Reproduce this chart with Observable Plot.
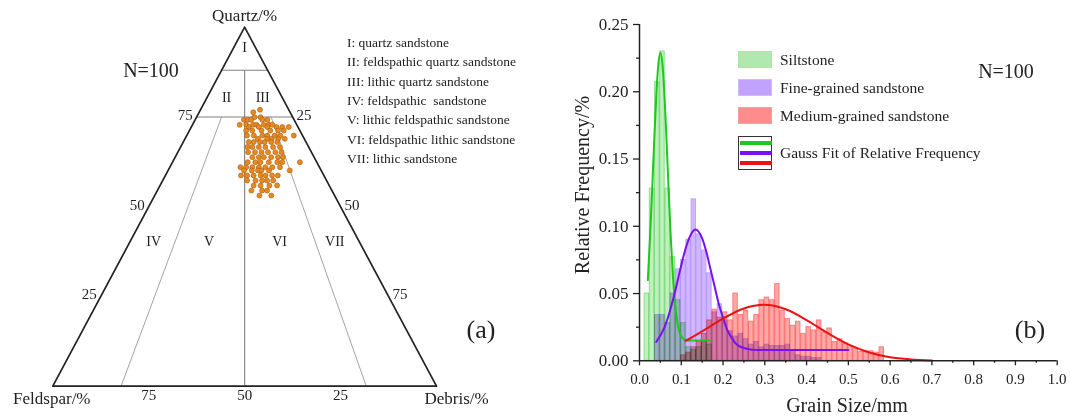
<!DOCTYPE html>
<html>
<head>
<meta charset="utf-8">
<script src="https://cdn.jsdelivr.net/npm/d3@7"></script>
<script src="https://cdn.jsdelivr.net/npm/@observablehq/plot@0.6"></script>
<style>
  body { margin: 0; background: #fff; }
  #fig { position: relative; width: 1070px; height: 419px; overflow: hidden; background: #fff;
         font-family: "Liberation Serif", "Times New Roman", serif; color: #222; }
  #fig svg { position: absolute; top: 0; }
  .lab { position: absolute; white-space: pre; line-height: 1; }
</style>
</head>
<body>
<div id="fig"></div>
<script>
// ---------- (a) ternary diagram: quartz / feldspar / debris ----------
const vertexLabels = ["Quartz/%", "Feldspar/%", "Debris/%"];
const edgeTickValues = [25, 50, 75];
const classCodes = ["I", "II", "III", "IV", "V", "VI", "VII"];
const classNames = ["quartz sandstone", "feldspathic quartz sandstone", "lithic quartz sandstone",
  "feldspathic  sandstone", "lithic feldspathic sandstone", "feldspathic lithic sandstone", "lithic sandstone"];

// class boundaries, each segment given by (quartz %, debris %) at both ends
const boundaryQuartzA = [88, 75, 88, 75, 75];
const boundaryDebrisA = [0, 0, 6, 6.5, 19.4];
const boundaryQuartzB = [88, 75, 0, 0, 0];
const boundaryDebrisB = [12, 25, 50, 17.8, 81.7];

// sample compositions (N = 100)
const sampleQuartz = [
  77.0, 76.3, 74.9, 74.9, 74.2, 74.2, 74.2, 74.2, 74.2,
  72.8, 72.8, 72.8, 72.8, 72.8, 72.8, 72.8,
  72.2, 72.2, 72.2, 72.2, 72.2, 72.2,
  71.2, 71.2, 71.2, 71.2, 71.2, 71.2,
  69.8, 69.8, 69.8, 69.8, 69.8, 69.8, 69.8,
  68.9, 68.9, 68.9, 68.9, 68.9,
  68.0, 68.0, 68.0, 68.0, 68.0, 68.0,
  66.6, 66.6, 66.6, 66.6, 66.6, 66.6,
  65.2, 65.2, 65.2, 65.2, 65.2, 65.2,
  63.8, 63.8, 63.8, 63.8, 63.8, 63.8,
  62.4, 62.4, 62.4, 62.4, 62.4, 62.4, 62.4,
  61.0, 61.0, 61.0, 61.0, 61.0, 61.0, 61.0,
  60.1, 60.1, 60.1, 60.1, 60.1, 60.1,
  58.7, 58.7, 58.7, 58.7, 58.7, 58.7, 58.7,
  57.3, 57.3, 57.3, 57.3, 57.3,
  55.9, 55.9, 55.9, 55.9,
  54.5, 54.5, 54.5,
  53.1, 53.1
];
const sampleDebris = [
  15.5, 14.1, 15.1, 16.7, 12.7, 13.8, 14.6, 17.5, 18.8,
  12.3, 14.0, 15.8, 16.7, 18.6, 19.9, 20.8,
  15.0, 17.6, 19.8, 22.2, 23.7, 25.4,
  14.8, 16.4, 18.8, 21.1, 23.1, 24.6,
  15.7, 17.5, 19.7, 21.0, 22.9, 24.4, 27.9,
  19.0, 21.4, 22.6, 24.3, 26.0,
  17.1, 18.4, 20.0, 21.2, 22.9, 24.5,
  17.4, 18.7, 20.4, 22.1, 24.1, 25.9,
  18.3, 20.1, 21.8, 23.5, 25.4, 27.0,
  20.1, 21.8, 23.1, 25.0, 26.8, 28.1,
  19.6, 21.6, 22.9, 25.1, 27.3, 28.6, 33.2,
  18.4, 19.9, 21.5, 23.2, 24.9, 26.7, 28.7,
  19.8, 21.8, 23.4, 24.3, 26.3, 31.7,
  19.7, 21.3, 23.0, 24.8, 26.1, 27.8, 29.3,
  22.0, 24.2, 25.9, 27.2, 28.8,
  24.4, 26.2, 28.5, 30.5,
  24.5, 27.3, 28.6,
  27.3, 30.4
];

// ---------- (b) grain-size histograms ----------
const binWidth = 0.0125;
const binCenters = [0.0175, 0.03, 0.0425, 0.055, 0.0675, 0.08, 0.0925, 0.105, 0.1175, 0.13,
  0.1425, 0.155, 0.1675, 0.18, 0.1925, 0.205, 0.2175, 0.23, 0.2425, 0.255,
  0.2675, 0.28, 0.2925, 0.305, 0.3175, 0.33, 0.3425, 0.355, 0.3675, 0.38,
  0.3925, 0.405, 0.4175, 0.43, 0.4425, 0.455, 0.4675, 0.48, 0.4925, 0.505,
  0.5175, 0.53, 0.5425, 0.555, 0.5675, 0.58];
const siltFreq = [0.050, 0.128, 0.207, 0.230, 0.128, 0.077, 0.045, 0.028, 0.010, 0.008,
  0.010, 0.014, 0.012, 0, 0, 0, 0, 0, 0, 0,
  0, 0, 0, 0, 0, 0, 0, 0, 0, 0,
  0, 0, 0, 0, 0, 0, 0, 0, 0, 0,
  0, 0, 0, 0, 0, 0];
const fineFreq = [0, 0, 0.034, 0.034, 0.028, 0.050, 0.068, 0.075, 0.090, 0.120,
  0.094, 0.082, 0.065, 0.036, 0.042, 0.030, 0.022, 0.018, 0.020, 0.016,
  0.012, 0.014, 0.010, 0.012, 0.011, 0.011, 0.011, 0.012, 0.008, 0.004,
  0.003, 0.003, 0.002, 0.002, 0, 0, 0, 0, 0, 0,
  0, 0, 0, 0, 0, 0];
const mediumFreq = [0, 0, 0, 0, 0, 0, 0, 0.004, 0.006, 0.010,
  0.014, 0.020, 0.030, 0.038, 0.032, 0.036, 0.030, 0.050, 0.034, 0.037,
  0.029, 0.034, 0.045, 0.047, 0.045, 0.057, 0.037, 0.031, 0.026, 0.029,
  0.020, 0.025, 0.0225, 0.030, 0.021, 0.024, 0.014, 0.016, 0.013, 0.011,
  0.009, 0.0065, 0.007, 0.007, 0.006, 0.010];

// Gauss fit curves of relative frequency
const siltFitX = [0.02, 0.025, 0.03, 0.035, 0.04, 0.045, 0.05, 0.055, 0.06, 0.065, 0.07, 0.075, 0.08, 0.085, 0.09, 0.10, 0.11, 0.12, 0.17];
const siltFitY = [0.060, 0.091, 0.125, 0.162, 0.196, 0.220, 0.229, 0.220, 0.196, 0.162, 0.125, 0.091, 0.063, 0.043, 0.030, 0.018, 0.0155, 0.015, 0.015];
const fineFitX = [0.04, 0.06, 0.08, 0.10, 0.11, 0.12, 0.134, 0.15, 0.16, 0.17, 0.18, 0.19, 0.20, 0.21, 0.22, 0.23, 0.25, 0.27, 0.30, 0.50];
const fineFitY = [0.014, 0.025, 0.045, 0.071, 0.083, 0.092, 0.0976, 0.091, 0.081, 0.068, 0.055, 0.042, 0.032, 0.023, 0.0174, 0.013, 0.0095, 0.0083, 0.008, 0.008];
const mediumFitX = [0.11, 0.15, 0.20, 0.25, 0.297, 0.35, 0.40, 0.45, 0.50, 0.55, 0.60, 0.65, 0.70];
const mediumFitY = [0.0147, 0.0219, 0.0314, 0.0389, 0.0416, 0.0383, 0.0303, 0.0207, 0.0122, 0.0062, 0.0026, 0.0010, 0.0003];

const seriesNames = ["Siltstone", "Fine-grained sandstone", "Medium-grained sandstone"];
const fitLabel = "Gauss Fit of Relative Frequency";
const xMajor = [0, 0.1, 0.2, 0.3, 0.4, 0.5, 0.6, 0.7, 0.8, 0.9, 1.0];
const xMinor = [0.05, 0.15, 0.25, 0.35, 0.45, 0.55, 0.65, 0.75, 0.85, 0.95];
const yMajor = [0, 0.05, 0.10, 0.15, 0.20, 0.25];
const yMinor = [0.025, 0.075, 0.125, 0.175, 0.225];
const sampleCount = 100;

// ---------- styling ----------
const serif = '"Liberation Serif", "Times New Roman", serif';
const barStyle = [
  {fill: "#8fe08f", stroke: "#7fe07f"},
  {fill: "#a77bff", stroke: "#bf9dff"},
  {fill: "#ff5c5c", stroke: "#ff7474"}
];
const lineColors = ["#1ec81e", "#7a10f0", "#ee1111"];

const fig = document.getElementById("fig");

// ternary projection: horizontal = debris + quartz/2, vertical = quartz
const tx = d => d.debris + d.quartz / 2;
const ty = d => d.quartz;

const samples = sampleQuartz.map((q, i) => ({quartz: q, debris: sampleDebris[i]}));
const outline = [{quartz: 100, debris: 0}, {quartz: 0, debris: 0}, {quartz: 0, debris: 100}, {quartz: 100, debris: 0}];
const boundaries = boundaryQuartzA.map((q, i) => ({
  qa: q, da: boundaryDebrisA[i], qb: boundaryQuartzB[i], db: boundaryDebrisB[i], faint: i >= 3
}));
const regionAnchors = [
  {quartz: 94.3, debris: 2.85}, {quartz: 80.4, debris: 5.1}, {quartz: 80.4, debris: 14.5},
  {quartz: 40.3, debris: 6.15}, {quartz: 40.3, debris: 20.55}, {quartz: 40.3, debris: 38.95}, {quartz: 40.3, debris: 53.35}
].map((p, i) => ({...p, code: classCodes[i]}));

const leftTicks = edgeTickValues.map(v => ({quartz: v, debris: 0, label: String(v)}));
const rightTicks = edgeTickValues.map(v => ({quartz: 100 - v, debris: v, label: String(v)}));
const baseTicks = edgeTickValues.map(v => ({quartz: 0, debris: 100 - v, label: String(v)}));

const ternary = Plot.plot({
  width: 530, height: 419, margin: 0,
  x: {domain: [0, 100], range: [52.3, 436], axis: null},
  y: {domain: [0, 100], range: [385.7, 26.7], axis: null},
  style: {fontFamily: serif, color: "#222", background: "transparent"},
  marks: [
    Plot.link(boundaries.filter(d => !d.faint), {
      x1: d => d.da + d.qa / 2, y1: "qa", x2: d => d.db + d.qb / 2, y2: "qb",
      stroke: "#808080", strokeWidth: 1.1
    }),
    Plot.link(boundaries.filter(d => d.faint), {
      x1: d => d.da + d.qa / 2, y1: "qa", x2: d => d.db + d.qb / 2, y2: "qb",
      stroke: "#9a9a9a", strokeWidth: 0.9
    }),
    Plot.line(outline, {x: tx, y: ty, stroke: "#222", strokeWidth: 1.7}),
    Plot.dot(samples, {x: tx, y: ty, r: 2.5, fill: "#e88a1d", stroke: "#a85c12", strokeWidth: 0.6}),
    Plot.text(regionAnchors, {x: tx, y: ty, text: "code", fontSize: 14, fill: "#222"}),
    Plot.text(leftTicks, {x: tx, y: ty, text: "label", textAnchor: "end", dx: -4, dy: -2, fontSize: 15, fill: "#222"}),
    Plot.text(rightTicks, {x: tx, y: ty, text: "label", textAnchor: "start", dx: 4, dy: -2, fontSize: 15, fill: "#222"}),
    Plot.text(baseTicks, {x: tx, y: ty, text: "label", dy: 9, fontSize: 15, fill: "#222"}),
    Plot.text([{quartz: 100, debris: 0, label: vertexLabels[0]}], {x: tx, y: ty, text: "label", dy: -12, fontSize: 17, fill: "#222"}),
    Plot.text([{quartz: 0, debris: 0, label: vertexLabels[1]}], {x: tx, y: ty, text: "label", dy: 12, dx: -1, fontSize: 17, fill: "#222"}),
    Plot.text([{quartz: 0, debris: 100, label: vertexLabels[2]}], {x: tx, y: ty, text: "label", textAnchor: "start", dx: -12, dy: 12, fontSize: 17, fill: "#222"})
  ]
});
ternary.style.left = "0px";
fig.appendChild(ternary);

// ---------- histogram panel ----------
function binsOf(freq) {
  return binCenters.map((c, i) => ({x1: c - binWidth / 2, x2: c + binWidth / 2, v: freq[i]})).filter(d => d.v > 0);
}
function fitOf(xs, ys) {
  return xs.map((x, i) => ({x, y: ys[i]}));
}
const allFreq = [siltFreq, fineFreq, mediumFreq];
const fits = [fitOf(siltFitX, siltFitY), fitOf(fineFitX, fineFitY), fitOf(mediumFitX, mediumFitY)];

const hist = Plot.plot({
  width: 540, height: 419,
  marginLeft: 109, marginRight: 13.3, marginTop: 24, marginBottom: 58.7,
  x: {domain: [0, 1]},
  y: {domain: [0, 0.25]},
  style: {fontFamily: serif, color: "#222", background: "transparent"},
  marks: [
    ...allFreq.map((f, k) => Plot.rect(binsOf(f), {
      x1: "x1", x2: "x2", y1: 0, y2: "v",
      fill: barStyle[k].fill, fillOpacity: 0.55,
      stroke: barStyle[k].stroke, strokeWidth: 1, strokeOpacity: 0.9,
      insetLeft: 0.4, insetRight: 0.4, mixBlendMode: "multiply"
    })),
    ...fits.map((f, k) => Plot.line(f, {x: "x", y: "y", stroke: lineColors[k], strokeWidth: 2, curve: "monotone-x"})),
    Plot.ruleY([0], {stroke: "#222", strokeWidth: 1.5}),
    Plot.ruleX([0], {stroke: "#222", strokeWidth: 1.5}),
    Plot.axisX({ticks: xMajor, tickSize: 5, tickPadding: 8, tickFormat: d3.format(".1f"), fontSize: 15, label: null, strokeWidth: 1.3}),
    Plot.axisX({ticks: xMinor, tickSize: 2.5, tickFormat: () => "", label: null, strokeWidth: 1.3}),
    Plot.axisY({ticks: yMajor, tickSize: 6, tickPadding: 5, tickFormat: d3.format(".2f"), fontSize: 17, label: null, strokeWidth: 1.3}),
    Plot.axisY({ticks: yMinor, tickSize: 3, tickFormat: () => "", label: null, strokeWidth: 1.3})
  ]
});
hist.style.left = "530px";
fig.appendChild(hist);

// ---------- text annotations and legends ----------
function label(text, x, y, size, anchor = "middle", extra = "") {
  const el = document.createElement("div");
  el.className = "lab";
  el.textContent = text;
  const tx = anchor === "middle" ? "-50%" : anchor === "end" ? "-100%" : "0";
  el.style.cssText = `left:${x}px;top:${y}px;font-size:${size}px;transform:translate(${tx},-50%) ${extra};`;
  fig.appendChild(el);
  return el;
}

// (a)
label(`N=${sampleCount}`, 151, 70, 20);
classCodes.forEach((c, i) => label(`${c}: ${classNames[i]}`, 347, 43 + i * 19.3, 13.5, "start"));
label("(a)", 481, 330, 26);

// (b)
label(`N=${sampleCount}`, 1006, 71, 20);
label("(b)", 1030, 330, 26);
label("Grain Size/mm", 847, 405, 20);
label("Relative Frequency/%", 582, 185, 20, "middle", "rotate(-90deg)");

const boxTops = [51, 79, 107];
seriesNames.forEach((name, k) => {
  const box = document.createElement("div");
  box.style.cssText = `position:absolute;left:738px;top:${boxTops[k]}px;width:32px;height:15px;` +
    `border:1.5px solid ${barStyle[k].stroke};background:${barStyle[k].fill};opacity:0.7;`;
  fig.appendChild(box);
  label(name, 780, boxTops[k] + 8.5, 15.5, "start");
});
const fitBox = document.createElement("div");
fitBox.style.cssText = "position:absolute;left:737.5px;top:135.5px;width:32px;height:32px;border:1.5px solid #333;background:#fff;";
fig.appendChild(fitBox);
lineColors.forEach((c, k) => {
  const ln = document.createElement("div");
  ln.style.cssText = `position:absolute;left:739.5px;top:${140.5 + k * 10.3}px;width:32px;height:4px;background:${c};`;
  fig.appendChild(ln);
});
label(fitLabel, 780, 153, 15.5, "start");
</script>
</body>
</html>
